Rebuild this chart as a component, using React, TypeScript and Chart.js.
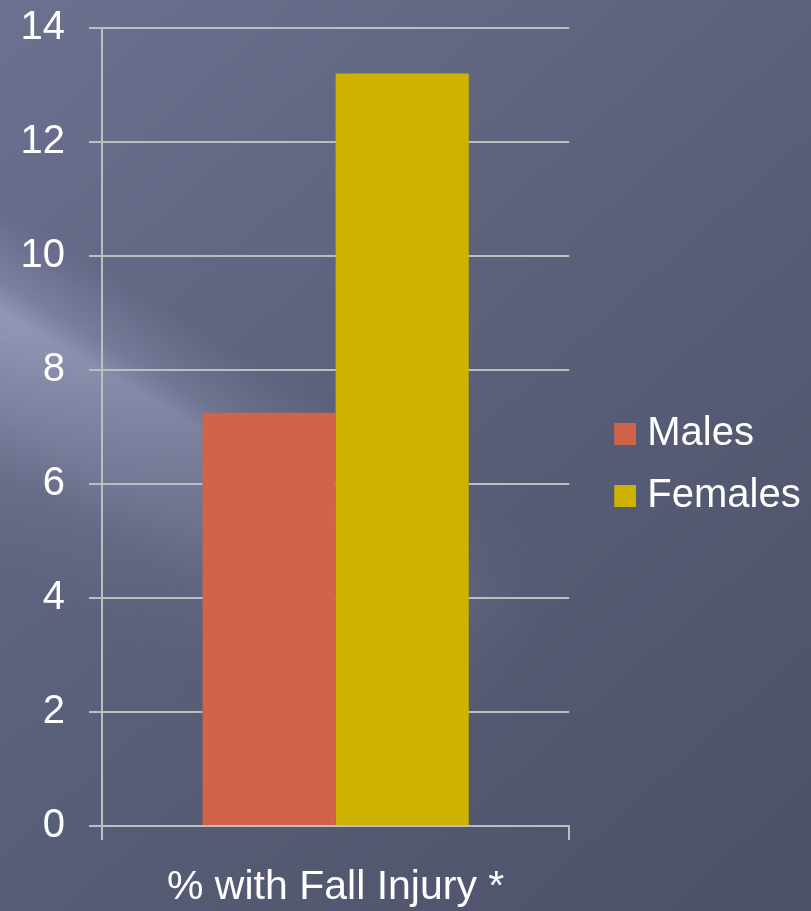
import React, { useEffect, useRef } from "react";
import { Chart, registerables } from "chart.js";

Chart.register(...registerables);

const categories = ["% with Fall Injury *"];
const seriesNames = ["Males", "Females"];
const malesValues = [7.25];
const femalesValues = [13.2];
const seriesColors = ["#D0634A", "#CDB300"];
const yMin = 0;
const yMax = 14;
const yStep = 2;

const FONT = "'Liberation Sans', Arial, Helvetica, sans-serif";
const GRID = "#BEBEBE";

function makeMarker(color: string): HTMLCanvasElement {
  const c = document.createElement("canvas");
  c.width = 54;
  c.height = 22;
  const g = c.getContext("2d")!;
  g.fillStyle = color;
  g.fillRect(32, 0, 22, 22);
  return c;
}

const bgPlugin = {
  id: "slideBackground",
  beforeDraw(chart: any) {
    const { ctx, width, height } = chart;
    ctx.save();
    const g = ctx.createLinearGradient(0, 0, width, height);
    g.addColorStop(0, "#6c7190");
    g.addColorStop(0.45, "#5b607b");
    g.addColorStop(1, "#4c5168");
    ctx.fillStyle = g;
    ctx.fillRect(0, 0, width, height);

    const off = document.createElement("canvas");
    off.width = width;
    off.height = height;
    const o = off.getContext("2d")!;
    const nx = -0.51;
    const ny = 0.86;
    const x0 = 0 - nx * 80;
    const y0 = 300 - ny * 80;
    const lg = o.createLinearGradient(x0, y0, x0 + nx * 320, y0 + ny * 320);
    lg.addColorStop(0, "rgba(200,208,240,0)");
    lg.addColorStop(0.2, "rgba(200,208,240,0.24)");
    lg.addColorStop(0.28, "rgba(200,208,240,0.45)");
    lg.addColorStop(0.55, "rgba(200,208,240,0.28)");
    lg.addColorStop(0.72, "rgba(200,208,240,0.1)");
    lg.addColorStop(1, "rgba(200,208,240,0)");
    o.fillStyle = lg;
    o.fillRect(0, 0, width, height);
    o.globalCompositeOperation = "destination-in";
    const rg = o.createRadialGradient(0, 330, 0, 0, 330, 620);
    rg.addColorStop(0, "rgba(0,0,0,1)");
    rg.addColorStop(0.5, "rgba(0,0,0,0.5)");
    rg.addColorStop(1, "rgba(0,0,0,0)");
    o.fillStyle = rg;
    o.fillRect(0, 0, width, height);
    ctx.drawImage(off, 0, 0);
    ctx.restore();
  },
};

// Let the legend's drawing (clip) area reach the right canvas edge.
const legendWidenPlugin = {
  id: "legendWiden",
  afterLayout(chart: any) {
    const lg = chart.legend;
    if (lg) {
      lg.right = chart.width;
      lg.width = lg.right - lg.left;
    }
  },
};

export default function App() {
  const ref = useRef<HTMLCanvasElement | null>(null);

  useEffect(() => {
    if (!ref.current) return;
    const markers = seriesColors.map((c) => makeMarker(c));
    const chart = new Chart(ref.current, {
      type: "bar",
      data: {
        labels: categories,
        datasets: [
          {
            label: seriesNames[0],
            data: malesValues,
            backgroundColor: seriesColors[0],
            borderWidth: 0,
          },
          {
            label: seriesNames[1],
            data: femalesValues,
            backgroundColor: seriesColors[1],
            borderWidth: 0,
          },
        ],
      },
      options: {
        responsive: false,
        animation: false,
        devicePixelRatio: 1,
        datasets: {
          bar: { categoryPercentage: 0.57, barPercentage: 1.0 },
        },
        layout: { padding: { top: 18, left: 21, right: 59, bottom: 0 } },
        plugins: {
          tooltip: { enabled: false },
          title: { display: false },
          legend: {
            display: true,
            position: "right",
            align: "center",
            labels: {
              color: "#ffffff",
              font: { family: FONT, size: 40 },
              padding: 22,
              usePointStyle: true,
              pointStyleWidth: 36,
              generateLabels: (ch: any) => {
                const items = (Chart as any).defaults.plugins.legend.labels.generateLabels(ch);
                return items.map((it: any, i: number) => ({
                  ...it,
                  pointStyle: markers[i],
                  fontColor: "#ffffff",
                }));
              },
            },
          },
        },
        scales: {
          x: {
            type: "category",
            offset: true,
            grid: {
              offset: true,
              drawOnChartArea: false,
              drawTicks: true,
              tickLength: 14,
              color: GRID,
              lineWidth: 2,
            },
            border: { display: true, color: GRID, width: 2 },
            ticks: {
              color: "#ffffff",
              font: { family: FONT, size: 41, lineHeight: 1.2 },
              padding: 23,
              maxRotation: 0,
            },
            afterFit: (scale: any) => {
              scale.height = 85;
            },
          },
          y: {
            type: "linear",
            min: yMin,
            max: yMax,
            ticks: {
              stepSize: yStep,
              color: "#ffffff",
              font: { family: FONT, size: 40, lineHeight: 1.2 },
              padding: 24,
            },
            grid: {
              color: GRID,
              lineWidth: 2,
              drawTicks: true,
              tickLength: 13,
            },
            border: { display: true, color: GRID, width: 2 },
            afterFit: (scale: any) => {
              scale.width = 81;
              scale.paddingTop = 28;
              scale.paddingBottom = 10;
            },
          },
        },
      },
      plugins: [bgPlugin, legendWidenPlugin],
    } as any);
    return () => chart.destroy();
  }, []);

  return (
    <div style={{ position: "absolute", left: 0, top: 0, width: 811, height: 911 }}>
      <canvas ref={ref} width={811} height={911} style={{ display: "block" }} />
    </div>
  );
}
